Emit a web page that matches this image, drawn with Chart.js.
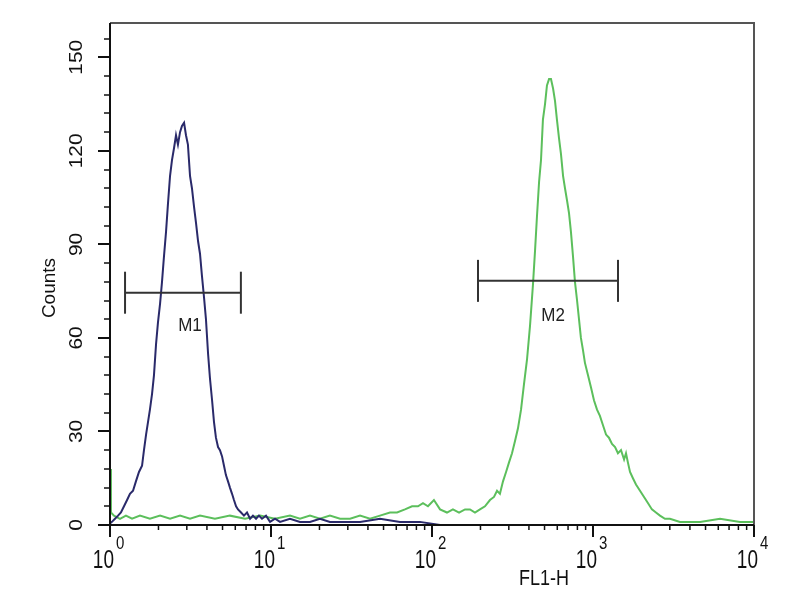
<!DOCTYPE html>
<html>
<head>
<meta charset="utf-8">
<title>FL1-H histogram</title>
<script src="https://cdn.jsdelivr.net/npm/chart.js@4"></script>
<style>
  html, body { margin: 0; padding: 0; background: #fff; }
  #wrap { width: 800px; height: 600px; }
</style>
</head>
<body>
<div id="wrap"><canvas id="chart" width="800" height="600"></canvas></div>
<script>
// histogram channels, position in log decades of FL1-H (10^d) and counts
const blueDecades = [
  0.000, 0.012, 0.031, 0.050, 0.068, 0.087, 0.106, 0.124, 0.143, 0.161,
  0.180, 0.199, 0.211, 0.224, 0.236, 0.248, 0.261, 0.273, 0.286, 0.298,
  0.311, 0.323, 0.335, 0.348, 0.360, 0.373, 0.385, 0.398, 0.410, 0.422,
  0.435, 0.447, 0.460, 0.472, 0.484, 0.497, 0.509, 0.522, 0.534, 0.547,
  0.559, 0.571, 0.584, 0.596, 0.609, 0.621, 0.634, 0.646, 0.658, 0.671,
  0.683, 0.696, 0.708, 0.720, 0.733, 0.745, 0.758, 0.770, 0.783, 0.795,
  0.814, 0.832, 0.851, 0.870, 0.888, 0.907, 0.925, 0.944, 0.969, 0.994,
  1.025, 1.056, 1.118, 1.180, 1.242, 1.304, 1.366, 1.460, 1.553, 1.677,
  1.801, 1.925, 2.050, 2.422, 4.000
];
const blueCounts = [
  0.5, 1, 2, 3, 4, 6, 8, 10, 11, 14,
  17, 19, 24, 29, 33, 37, 42, 48, 58, 65,
  71, 78, 86, 94, 103, 112, 117, 121, 125, 122,
  126, 128, 129, 125, 122, 112, 108, 102, 97, 91,
  87, 80, 73, 66, 55, 47, 40, 33, 28, 25,
  24, 22, 19, 16, 14, 12, 10, 8, 6, 5,
  4, 3, 4, 2, 3, 2, 3, 2, 3, 1,
  2, 1, 2, 1, 1, 2, 1, 1, 1, 2,
  1, 1, 0, 0, 0
];
const greenDecades = [
  0.000, 0.006, 0.025, 0.062, 0.099, 0.137, 0.186, 0.248, 0.311, 0.373,
  0.435, 0.497, 0.559, 0.652, 0.745, 0.839, 0.932, 1.025, 1.118, 1.180,
  1.242, 1.304, 1.366, 1.429, 1.491, 1.553, 1.615, 1.677, 1.739, 1.783,
  1.832, 1.876, 1.913, 1.944, 1.975, 2.012, 2.050, 2.093, 2.130, 2.168,
  2.205, 2.236, 2.267, 2.298, 2.329, 2.360, 2.385, 2.404, 2.422, 2.441,
  2.460, 2.478, 2.497, 2.516, 2.534, 2.553, 2.571, 2.590, 2.609, 2.627,
  2.640, 2.652, 2.665, 2.677, 2.689, 2.702, 2.714, 2.727, 2.739, 2.752,
  2.764, 2.776, 2.789, 2.801, 2.814, 2.826, 2.839, 2.851, 2.863, 2.876,
  2.888, 2.901, 2.913, 2.925, 2.938, 2.950, 2.969, 2.988, 3.006, 3.025,
  3.043, 3.062, 3.081, 3.099, 3.118, 3.137, 3.155, 3.174, 3.193, 3.205,
  3.217, 3.230, 3.248, 3.267, 3.292, 3.317, 3.342, 3.366, 3.391, 3.416,
  3.447, 3.478, 3.540, 3.665, 3.789, 3.913, 4.000
];
const greenCounts = [
  18, 4, 3, 2, 3, 2, 3, 2, 3, 2,
  3, 2, 3, 2, 3, 2, 3, 2, 3, 2,
  3, 2, 3, 2, 2, 3, 2, 3, 4, 4,
  5, 6, 6, 7, 6, 8, 5, 4, 5, 4,
  5, 5, 4, 5, 6, 8, 9, 11, 10, 14,
  17, 20, 23, 27, 31, 37, 45, 53, 64, 77,
  88, 99, 110, 117, 130, 135, 141, 143, 143, 140,
  136, 130, 124, 119, 112, 108, 104, 100, 94, 86,
  78, 72, 66, 60, 56, 52, 48, 44, 40, 37,
  35, 32, 29, 28, 26, 25, 23, 24, 21, 23,
  20, 17, 15, 13, 11, 9, 7, 5, 4, 3,
  2, 2, 1, 1, 2, 1, 1
];

// gate markers
const markerNames = ['M1', 'M2'];
const markerFrom = [1.24, 193];
const markerTo = [6.5, 1430];
const markerLevel = [74.5, 78.3];
const markerLabelAt = [3.14, 565];
const markerLabelLevel = [63.8, 67.2];

// axis ticks
const xDecades = [0, 1, 2, 3, 4];
const yTickLabels = [0, 30, 60, 90, 120, 150];
const yMax = 161;

function toPoints(decades, counts) {
  return decades.map((d, i) => ({ x: Math.pow(10, d), y: counts[i] }));
}

function drawText(ctx, str, x, y, o) {
  ctx.save();
  ctx.translate(x, y);
  if (o.rotate) ctx.rotate(o.rotate);
  ctx.scale(o.sx || 1, o.sy || 1);
  ctx.font = o.font;
  ctx.fillStyle = o.color || '#111';
  ctx.textAlign = o.align || 'center';
  ctx.textBaseline = o.baseline || 'middle';
  ctx.fillText(str, 0, 0);
  ctx.restore();
}

const FONT = '"Liberation Sans", Arial, sans-serif';

const axesPlugin = {
  id: 'facsAxes',
  afterDraw(chart) {
    const { ctx, chartArea: a, scales: { x, y } } = chart;
    ctx.save();
    // frame
    ctx.strokeStyle = '#555';
    ctx.lineWidth = 2;
    ctx.beginPath();
    ctx.moveTo(a.left, a.top);
    ctx.lineTo(a.right, a.top);
    ctx.lineTo(a.right, a.bottom);
    ctx.stroke();
    ctx.strokeStyle = '#111';
    ctx.beginPath();
    ctx.moveTo(a.left, a.top);
    ctx.lineTo(a.left, a.bottom);
    ctx.lineTo(a.right, a.bottom);
    ctx.stroke();

    // y ticks: minor every 6, major every 30
    for (let v = 0; v <= yMax; v += 6) {
      const py = Math.round(y.getPixelForValue(v));
      const major = v % 30 === 0;
      ctx.lineWidth = major ? 2 : 1.5;
      ctx.beginPath();
      ctx.moveTo(a.left - (major ? 12 : 6), py);
      ctx.lineTo(a.left, py);
      ctx.stroke();
    }
    yTickLabels.forEach(v => {
      drawText(ctx, String(v), 77, y.getPixelForValue(v), {
        font: '19px ' + FONT, rotate: -Math.PI / 2, sx: 1.1
      });
    });

    // x ticks: log decades with minor ticks
    xDecades.forEach((n, i) => {
      const base = Math.pow(10, n);
      const px = x.getPixelForValue(base);
      ctx.lineWidth = 2;
      ctx.beginPath();
      ctx.moveTo(px, a.bottom);
      ctx.lineTo(px, a.bottom + 12);
      ctx.stroke();
      if (i < xDecades.length - 1) {
        for (let k = 2; k <= 9; k++) {
          const mx = x.getPixelForValue(k * base);
          ctx.lineWidth = 1.5;
          ctx.beginPath();
          ctx.moveTo(mx, a.bottom);
          ctx.lineTo(mx, a.bottom + 5);
          ctx.stroke();
        }
      }
      drawText(ctx, '10', px + 4, 568, {
        font: '19px ' + FONT, align: 'right', baseline: 'alphabetic', sy: 1.4
      });
      drawText(ctx, String(n), px + 6, 549, {
        font: '15px ' + FONT, align: 'left', baseline: 'alphabetic', sy: 1.25
      });
    });

    // axis titles
    drawText(ctx, 'FL1-H', 544, 579, { font: '18px ' + FONT, sy: 1.25 });
    drawText(ctx, 'Counts', 50, 288, { font: '19px ' + FONT, rotate: -Math.PI / 2 });

    // marker labels
    markerNames.forEach((name, i) => {
      drawText(ctx, name, x.getPixelForValue(markerLabelAt[i]), y.getPixelForValue(markerLabelLevel[i]), {
        font: '17px ' + FONT, sy: 1.1, color: '#222'
      });
    });
    ctx.restore();
  }
};

const markerSets = markerNames.map((name, i) => ({
  label: name,
  data: [{ x: markerFrom[i], y: markerLevel[i] }, { x: markerTo[i], y: markerLevel[i] }],
  showLine: true,
  borderColor: '#333',
  borderWidth: 2,
  pointStyle: 'line',
  rotation: 90,
  pointRadius: 21,
  pointBorderWidth: 2,
  pointBorderColor: '#333'
}));

new Chart(document.getElementById('chart'), {
  type: 'scatter',
  data: {
    datasets: [
      {
        label: 'control',
        data: toPoints(blueDecades, blueCounts),
        showLine: true,
        borderColor: '#2a2a6a',
        borderWidth: 2,
        pointRadius: 0,
        order: 1
      },
      {
        label: 'antibody',
        data: toPoints(greenDecades, greenCounts),
        showLine: true,
        borderColor: '#5cbf5c',
        borderWidth: 2,
        pointRadius: 0,
        order: 2
      },
      ...markerSets
    ]
  },
  options: {
    responsive: false,
    animation: false,
    layout: { padding: { top: 15, right: 46, left: 0, bottom: 0 } },
    plugins: { legend: { display: false }, tooltip: { enabled: false } },
    scales: {
      x: {
        type: 'logarithmic', min: 1, max: 10000,
        ticks: { display: false }, grid: { display: false }, border: { display: false },
        afterFit: s => { s.height = 75; }
      },
      y: {
        type: 'linear', min: 0, max: yMax,
        ticks: { display: false }, grid: { display: false }, border: { display: false },
        afterFit: s => { s.width = 110; }
      }
    }
  },
  plugins: [axesPlugin]
});
</script>
</body>
</html>
